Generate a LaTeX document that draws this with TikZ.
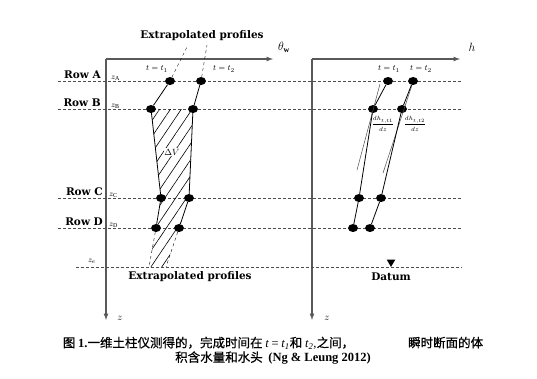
\documentclass[tikz,border=0pt]{standalone}
\usepackage{fontspec}
\setmainfont{Liberation Serif}
\newfontfamily\rowfont{DejaVu Serif}
\newfontfamily\cjk[FakeBold=0.6]{Noto Sans CJK SC}
\usetikzlibrary{shapes.geometric,patterns.meta}

\begin{document}
\begin{tikzpicture}[x=1pt, y=-1pt, >=latex, thin,
    dot/.style={ellipse, fill, inner sep=0pt, minimum width=10pt, minimum height=8pt},
    rowline/.style={gray!60!black, dash pattern=on 3pt off 2pt, line width=0.7pt},
    axis/.style={->, gray!70!black, line width=1.2pt},
    profile/.style={line width=0.8pt},
    tangent/.style={gray!60!black, line width=0.5pt},
    rowlabel/.style={font=\rowfont\bfseries\fontsize{10.5}{12}\selectfont, anchor=south east, inner sep=1pt},
    boldtext/.style={font=\rowfont\bfseries\fontsize{10.5}{12}\selectfont, inner sep=1pt},
    zlabel/.style={font=\fontsize{8}{9}\selectfont, anchor=south west, inner sep=1pt},
    tlabel/.style={font=\fontsize{8.5}{10}\selectfont, inner sep=1pt},
    caption/.style={font=\cjk\fontsize{12.5}{14}\selectfont, inner sep=0pt}]
        \useasboundingbox (0,0) rectangle (537,378);

        % Axes
        \coordinate (o1) at (106,59);
        \coordinate (x1) at (273,59);
        \coordinate (z1) at (106,320);
        \coordinate (o2) at (312,59);
        \coordinate (x2) at (460,59);
        \coordinate (z2) at (312,320);
        \draw[axis] (o1) -- (x1);
        \draw[axis] (o1) -- (z1);
        \draw[axis] (o2) -- (x2);
        \draw[axis] (o2) -- (z2);
        \node[font=\fontsize{12}{13}\selectfont] (thw) at (284,47) {$\theta_{\mathbf{w}}$};
        \node[font=\fontsize{12}{13}\selectfont] (hax) at (472,47) {$h$};
        \node[font=\fontsize{10}{11}\selectfont] (zax1) at (120,318) {$z$};
        \node[font=\fontsize{10}{11}\selectfont] (zax2) at (327,318) {$z$};

        % Rows
        \coordinate (rowA-l) at (58,81);   \coordinate (rowA-r) at (462,81);
        \coordinate (rowB-l) at (58,109);  \coordinate (rowB-r) at (462,109);
        \coordinate (rowC-l) at (58,198);  \coordinate (rowC-r) at (462,198);
        \coordinate (rowD-l) at (58,228);  \coordinate (rowD-r) at (462,228);
        \coordinate (rowE-l) at (76,267);  \coordinate (rowE-r) at (462,267);
        \draw[rowline] (rowA-l) -- (rowA-r);
        \draw[rowline] (rowB-l) -- (rowB-r);
        \draw[rowline] (rowC-l) -- (rowC-r);
        \draw[rowline] (rowD-l) -- (rowD-r);
        \draw[rowline] (rowE-l) -- (rowE-r);
        \node[rowlabel] (rowA) at (102,80) {Row A};
        \node[rowlabel] (rowB) at (102,108) {Row B};
        \node[rowlabel] (rowC) at (104,197) {Row C};
        \node[rowlabel] (rowD) at (104,227) {Row D};
        \node[zlabel] (zA) at (110,82) {$z_{\mathrm{A}}$};
        \node[zlabel] (zB) at (110,110) {$z_{\mathrm{B}}$};
        \node[zlabel] (zC) at (108,199) {$z_{\mathrm{C}}$};
        \node[zlabel] (zD) at (108,229) {$z_{\mathrm{D}}$};
        \node[zlabel, anchor=center] (ze) at (92,261) {$z_e$};

        % Left profiles
        \node[dot] (a1) at (170,81) {};
        \node[dot] (a2) at (201,81) {};
        \node[dot] (b1) at (151,109) {};
        \node[dot] (b2) at (193,109) {};
        \node[dot] (c1) at (161,198) {};
        \node[dot] (c2) at (189,198) {};
        \node[dot] (d1) at (156,228) {};
        \node[dot] (d2) at (179,228) {};
        \coordinate (e1) at (149,267);
        \coordinate (e2) at (166,267);
        \coordinate (p1) at (188,45);
        \coordinate (p2) at (207,45);
        \path[pattern={Lines[angle=56, distance=9pt, line width=0.6pt]}]
            (b1.center) -- (c1.center) -- (d1.center) -- (e1) -- (e2)
            -- (d2.center) -- (c2.center) -- (b2.center) -- cycle;
        \draw[profile] (a1) -- (b1) -- (c1) -- (d1);
        \draw[profile] (a2) -- (b2) -- (c2) -- (d2);
        \draw[dashed] (d1) -- (e1);
        \draw[dashed] (d2) -- (e2);
        \draw[dashed] (a1) -- (p1);
        \draw[dashed] (a2) -- (p2);
        \node[fill=white, inner sep=0.5pt, font=\fontsize{9}{10}\selectfont] (dv) at (172,152) {$\Delta V$};
        \node[tlabel] (t1) at (157,69) {$t = t_1$};
        \node[tlabel] (t2) at (224,69) {$t = t_2$};
        \node[boldtext] (extop) at (202,36) {Extrapolated profiles};
        \node[boldtext] (exbot) at (190,277) {Extrapolated profiles};

        % Right profiles
        \node[dot] (ra1) at (388,81) {};
        \node[dot] (ra2) at (413,81) {};
        \node[dot] (rb1) at (373,109) {};
        \node[dot] (rb2) at (402,109) {};
        \node[dot] (rc1) at (359,198) {};
        \node[dot] (rc2) at (381,198) {};
        \node[dot] (rd1) at (353,228) {};
        \node[dot] (rd2) at (370,228) {};
        \coordinate (s1a) at (380,84);
        \coordinate (s1b) at (357,170);
        \coordinate (s2a) at (412,85);
        \coordinate (s2b) at (383,173);
        \draw[tangent] (s1a) -- (s1b);
        \draw[tangent] (s2a) -- (s2b);
        \draw[profile] (ra1) -- (rb1) -- (rc1) -- (rd1);
        \draw[profile] (ra2) -- (rb2) -- (rc2) -- (rd2);
        \node[tlabel] (rt1) at (389,69) {$t = t_1$};
        \node[tlabel] (rt2) at (421,69) {$t = t_2$};
        \node[inner sep=0pt, font=\fontsize{6.5}{7}\selectfont] (g1) at (383,124) {$\displaystyle\frac{dh_{t,t1}}{dz}$};
        \node[inner sep=0pt, font=\fontsize{6.5}{7}\selectfont] (g2) at (415,124) {$\displaystyle\frac{dh_{t,t2}}{dz}$};
        \node[regular polygon, regular polygon sides=3, shape border rotate=180,
              fill, inner sep=0pt, minimum size=10pt] (datum) at (391,262) {};
        \node[boldtext] (datumtext) at (391,277) {Datum};

        % Caption
        \node[caption] (cap1) at (273,343)
            {图 {\rmfamily\bfseries 1.}一维土柱仪测得的，完成时间在 {\rmfamily\itshape t} {\rmfamily =} {\rmfamily\itshape t\textsubscript{1}}和 {\rmfamily\itshape t\textsubscript{2}}{\rmfamily ,}之间，\hspace{54pt}瞬时断面的体};
        \node[caption] (cap2) at (273,358)
            {积含水量和水头 \ {\rmfamily\bfseries (Ng \& Leung 2012)}};
    \end{tikzpicture}
\end{document}
